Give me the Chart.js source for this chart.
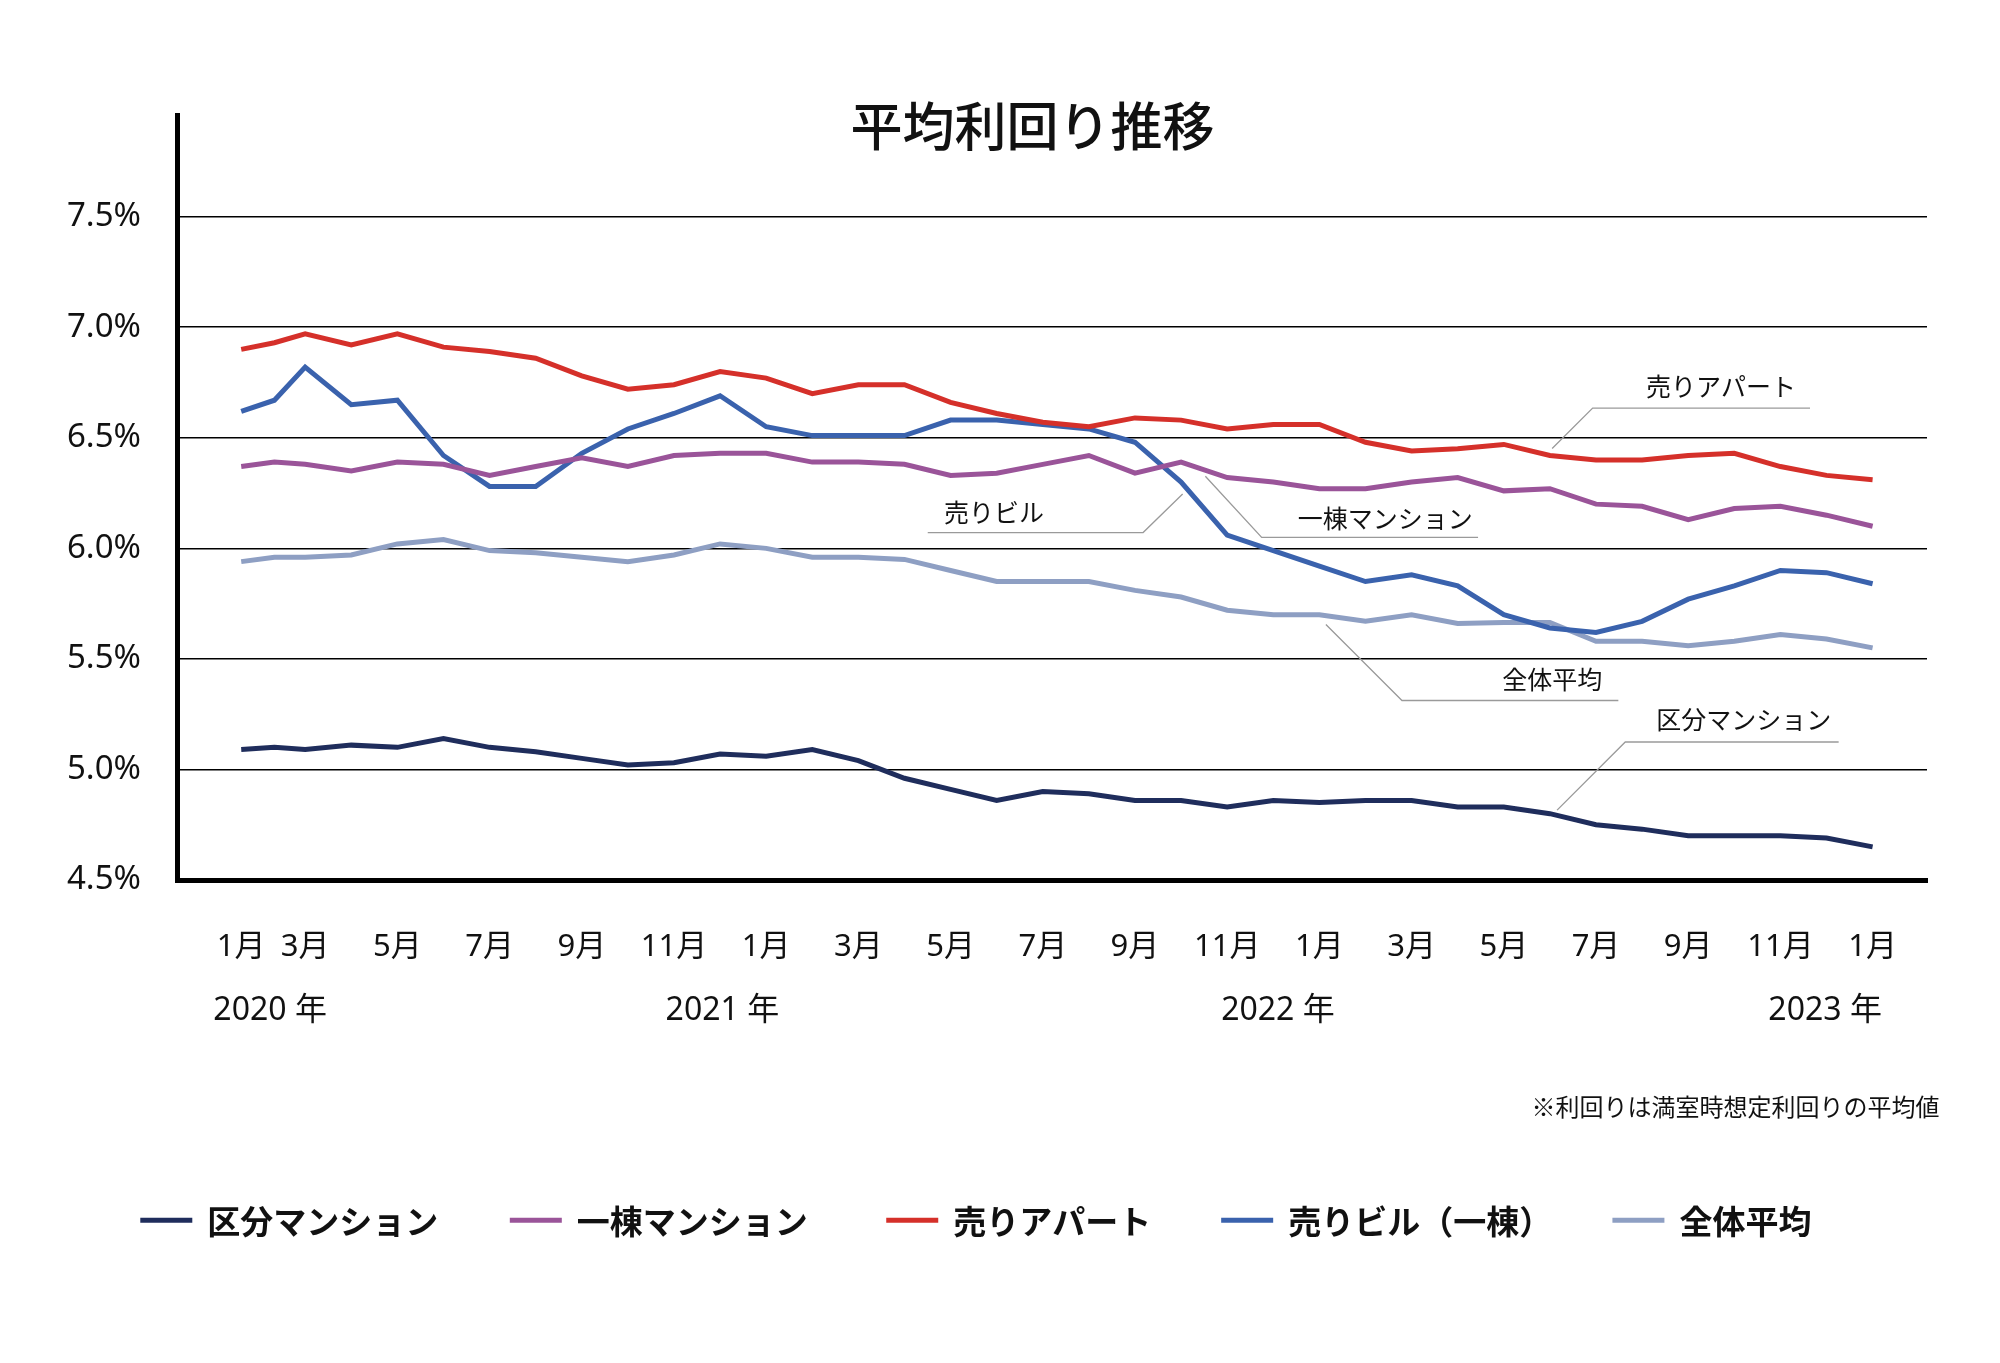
<!DOCTYPE html>
<html><head><meta charset="utf-8">
<script src="https://cdn.jsdelivr.net/npm/chart.js@4/dist/chart.umd.min.js"></script>
<style>body{margin:0;background:#fff}</style>
</head><body>
<canvas id="c" width="2000" height="1363"></canvas>
<script>
// x positions: Jan/Feb 2020 squeezed, then one unit per month (Mar 2020 = 2 ... Jan 2023 = 36)
const xPos = [0.613, 1.333].concat(Array.from({length: 35}, (_, i) => i + 2));
const monthTicks = [0.613, 2, 4, 6, 8, 10, 12, 14, 16, 18, 20, 22, 24, 26, 28, 30, 32, 34, 36];
const monthLabels = ['1月','3月','5月','7月','9月','11月','1月','3月','5月','7月','9月','11月','1月','3月','5月','7月','9月','11月','1月'];
const yearLabels = ['2020 年', '2021 年', '2022 年', '2023 年'];
const yearPos = [1.24, 11.05, 23.1, 34.97];
const yTicks = [4.5, 5.0, 5.5, 6.0, 6.5, 7.0, 7.5];

const kubun = [5.09,5.10,5.09,5.11,5.10,5.14,5.10,5.08,5.05,5.02,5.03,5.07,5.06,5.09,5.04,4.96,4.91,4.86,4.90,4.89,
  4.86,4.86,4.83,4.86,4.85,4.86,4.86,4.83,4.83,4.80,4.75,4.73,4.70,4.70,4.70,4.69,4.65];
const ittou = [6.37,6.39,6.38,6.35,6.39,6.38,6.33,6.37,6.41,6.37,6.42,6.43,6.43,6.39,6.39,6.38,6.33,6.34,6.38,6.42,
  6.34,6.39,6.32,6.30,6.27,6.27,6.30,6.32,6.26,6.27,6.20,6.19,6.13,6.18,6.19,6.15,6.10];
const apart = [6.90,6.93,6.97,6.92,6.97,6.91,6.89,6.86,6.78,6.72,6.74,6.80,6.77,6.70,6.74,6.74,6.66,6.61,6.57,6.55,
  6.59,6.58,6.54,6.56,6.56,6.48,6.44,6.45,6.47,6.42,6.40,6.40,6.42,6.43,6.37,6.33,6.31];
const biru = [6.62,6.67,6.82,6.65,6.67,6.42,6.28,6.28,6.43,6.54,6.61,6.69,6.55,6.51,6.51,6.51,6.58,6.58,6.56,6.54,
  6.48,6.30,6.06,5.99,5.92,5.85,5.88,5.83,5.70,5.64,5.62,5.67,5.77,5.83,5.90,5.89,5.84];
const zentai = [5.94,5.96,5.96,5.97,6.02,6.04,5.99,5.98,5.96,5.94,5.97,6.02,6.00,5.96,5.96,5.95,5.90,5.85,5.85,5.85,
  5.81,5.78,5.72,5.70,5.70,5.67,5.70,5.66,5.665,5.665,5.58,5.58,5.56,5.58,5.61,5.59,5.55];

const series = [
  {name: '区分マンション', data: kubun, color: '#1f2d5c'},
  {name: '一棟マンション', data: ittou, color: '#9a5499'},
  {name: '売りアパート', data: apart, color: '#d5302a'},
  {name: '売りビル（一棟）', data: biru, color: '#3a62ad'},
  {name: '全体平均', data: zentai, color: '#8e9fc3'}
];

const FONT = '"Noto Sans", "Noto Sans CJK JP", sans-serif';
const JFONT = '"Noto Sans CJK JP", sans-serif';
const F = 0.988; // overall layout scale

// callout labels (canvas px, before scaling)
const callouts = [
  {text: '売りアパート', tx: 1742, ty: 391, line: [[1571,454],[1612,413],[1832,413]]},
  {text: '売りビル', tx: 1006, ty: 519, line: [[939,539],[1157,539],[1197,500]]},
  {text: '一棟マンション', tx: 1402, ty: 525, line: [[1220,482],[1277,544],[1496,544]]},
  {text: '全体平均', tx: 1571, ty: 688, line: [[1342,632],[1419,709],[1638,709]]},
  {text: '区分マンション', tx: 1765, ty: 728, line: [[1576,820],[1645,751],[1861,751]]}
];
const legendX = [142, 516, 897, 1236, 1632];

const extras = {
  id: 'extras',
  afterDraw(chart) {
    const ctx = chart.ctx, xs = chart.scales.x;
    ctx.save();
    ctx.fillStyle = '#111';
    ctx.textAlign = 'center'; ctx.textBaseline = 'middle';
    ctx.font = '500 52px ' + JFONT;
    ctx.fillText('平均利回り推移', 1045 * F, 128 * F);

    ctx.font = '32px ' + FONT;
    yearLabels.forEach((t, i) => ctx.fillText(t, xs.getPixelForValue(yearPos[i]), 1023 * F));

    ctx.font = '25px ' + JFONT;
    callouts.forEach(c => {
      ctx.fillStyle = '#111';
      ctx.fillText(c.text, c.tx * F, c.ty * F);
      ctx.strokeStyle = '#9a9a9a'; ctx.lineWidth = 1.3;
      ctx.beginPath();
      c.line.forEach((p, i) => i ? ctx.lineTo(p[0] * F, p[1] * F) : ctx.moveTo(p[0] * F, p[1] * F));
      ctx.stroke();
    });

    ctx.textAlign = 'right';
    ctx.font = '24px ' + JFONT;
    ctx.fillText('※利回りは満室時想定利回りの平均値', 1963 * F, 1120 * F);

    ctx.textAlign = 'left';
    ctx.font = 'bold 33px ' + JFONT;
    series.forEach((s, i) => {
      ctx.strokeStyle = s.color; ctx.lineWidth = 5;
      ctx.beginPath(); ctx.moveTo(legendX[i] * F, 1235 * F); ctx.lineTo(legendX[i] * F + 52, 1235 * F); ctx.stroke();
      ctx.fillStyle = '#111';
      ctx.fillText(s.name, legendX[i] * F + 67, 1236 * F);
    });
    ctx.restore();
  }
};

new Chart(document.getElementById('c'), {
  type: 'line',
  data: {
    datasets: series.map(s => ({
      label: s.name,
      data: s.data.map((v, i) => ({x: xPos[i], y: v})),
      borderColor: s.color,
      borderWidth: 5,
      pointRadius: 0,
      tension: 0
    }))
  },
  options: {
    responsive: false,
    animation: false,
    layout: {padding: {top: 115, right: 73, left: 0, bottom: 0}},
    plugins: {legend: {display: false}, tooltip: {enabled: false}},
    scales: {
      x: {
        type: 'linear', min: -0.78, max: 37.18,
        afterBuildTicks: s => { s.ticks = monthTicks.map(v => ({value: v})); },
        afterFit: s => { s.height = 483; },
        ticks: {
          autoSkip: false, maxRotation: 0, padding: 49, color: '#111',
          font: {size: 31, family: FONT},
          callback: (v, i) => monthLabels[i]
        },
        grid: {display: false, drawTicks: false},
        border: {display: true, color: '#000', width: 5}
      },
      y: {
        min: 4.5, max: 7.96,
        afterBuildTicks: s => { s.ticks = yTicks.map(v => ({value: v})); },
        afterFit: s => { s.width = 177; },
        ticks: {
          padding: 36, color: '#111',
          font: {size: 33, family: FONT},
          callback: v => v.toFixed(1) + '%'
        },
        grid: {color: '#000', lineWidth: 1.6, drawTicks: false},
        border: {color: '#000', width: 5}
      }
    }
  },
  plugins: [extras]
});
</script>
</body></html>
